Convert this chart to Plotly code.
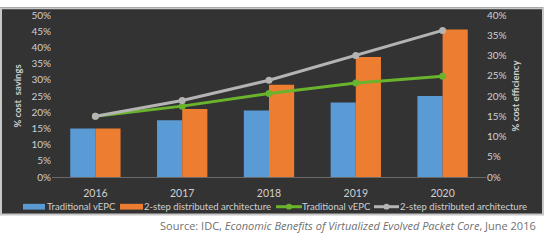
import base64
import plotly.graph_objects as go

years = ["2016", "2017", "2018", "2019", "2020"]
savings_trad = [0.15, 0.175, 0.205, 0.23, 0.25]
savings_2step = [0.15, 0.21, 0.285, 0.37, 0.455]
eff_trad = [0.15, 0.175, 0.206, 0.232, 0.249]
eff_2step = [0.15, 0.189, 0.239, 0.30, 0.362]
legend_labels = ["Traditional vEPC", "2-step distributed architecture",
                 "Traditional vEPC", "2-step distributed architecture"]

FONT = "Lato"
TXT = "#d0d0d0"
BLUE, ORANGE, GREEN, GRAY = "#5b9bd5", "#ed7d31", "#6ab42d", "#b4b4b4"

L, R, T, B = 52, 64, 8, 66
W, H = 550, 243
PW, PH = W - L - R, H - T - B


def px(x):
    return (x - L) / PW


def py(y):
    return (H - B - y) / PH


fig = go.Figure()
fig.add_trace(go.Bar(x=years, y=savings_trad, name=legend_labels[0],
                     marker=dict(color=BLUE, line=dict(width=0))))
fig.add_trace(go.Bar(x=years, y=savings_2step, name=legend_labels[1],
                     marker=dict(color=ORANGE, line=dict(width=0))))
fig.add_trace(go.Scatter(x=years, y=eff_trad, name=legend_labels[2], yaxis="y2",
                         mode="lines+markers", line=dict(color=GREEN, width=3),
                         marker=dict(size=7, color=GREEN)))
fig.add_trace(go.Scatter(x=years, y=eff_2step, name=legend_labels[3], yaxis="y2",
                         mode="lines+markers", line=dict(color=GRAY, width=3),
                         marker=dict(size=7, color=GRAY)))

bx0, bx1, by0, by1 = 0, 543, 0, 216
svg = (
    '<svg xmlns="http://www.w3.org/2000/svg" width="543" height="216">'
    '<defs><radialGradient id="g" cx="300" cy="230" r="330" gradientUnits="userSpaceOnUse">'
    '<stop offset="0" stop-color="#4a4a4a"/>'
    '<stop offset="0.45" stop-color="#3c3c3c"/>'
    '<stop offset="0.8" stop-color="#2a2a2a"/>'
    '<stop offset="1" stop-color="#1c1c1c"/>'
    '</radialGradient></defs>'
    '<rect width="543" height="216" fill="url(#g)"/></svg>'
)
src = "data:image/svg+xml;base64," + base64.b64encode(svg.encode()).decode()

shapes = [
    dict(type="rect", xref="paper", yref="paper", layer="below",
         x0=px(bx0), x1=px(bx1), y0=py(by1), y1=py(by0),
         fillcolor="#333333", line=dict(width=0)),
    dict(type="rect", xref="paper", yref="paper", layer="above",
         x0=px(bx0 + 1), x1=px(bx1), y0=py(by1), y1=py(bx0 + 1),
         fillcolor="rgba(0,0,0,0)", line=dict(color="#c8c8c8", width=2)),
]
annotations = []

ly = 208
items = [
    ("box", BLUE, 23, 45, 46, legend_labels[0]),
    ("box", ORANGE, 120, 143, 143, legend_labels[1]),
    ("line", GREEN, 276, 302, 301, legend_labels[2]),
    ("line", GRAY, 374, 399, 399, legend_labels[3]),
]
for kind, col, s0, s1, tx, label in items:
    if kind == "box":
        shapes.append(dict(type="rect", xref="paper", yref="paper", layer="above",
                           x0=px(s0), x1=px(s1), y0=py(ly + 3), y1=py(ly - 3),
                           fillcolor=col, line=dict(width=0)))
    else:
        shapes.append(dict(type="line", xref="paper", yref="paper", layer="above",
                           x0=px(s0), x1=px(s1), y0=py(ly), y1=py(ly),
                           line=dict(color=col, width=3)))
        m = (s0 + s1) / 2
        shapes.append(dict(type="circle", xref="paper", yref="paper", layer="above",
                           x0=px(m - 3), x1=px(m + 3), y0=py(ly + 3), y1=py(ly - 3),
                           fillcolor=col, line=dict(width=0)))
    annotations.append(dict(text=label, xref="paper", yref="paper", x=px(tx), xanchor="left",
                            y=py(ly), yanchor="middle", showarrow=False, borderpad=0,
                            font=dict(family=FONT, size=9.5, color=TXT)))

annotations.append(dict(
    text="Source: IDC, <i>Economic Benefits of Virtualized Evolved Packet Core</i>, June 2016",
    xref="paper", yref="paper", x=px(538), xanchor="right",
    y=py(228), yanchor="middle", showarrow=False,
    font=dict(family="Open Sans", size=11, color="#707070")))

fig.update_layout(
    width=W, height=H,
    margin=dict(l=L, r=R, t=T, b=B),
    paper_bgcolor="white",
    plot_bgcolor="rgba(0,0,0,0)",
    barmode="group", bargap=0.42, bargroupgap=0,
    font=dict(family=FONT, color=TXT, size=10),
    showlegend=False,
    xaxis=dict(showgrid=False, showline=True, linecolor="#6a6a6a", linewidth=1,
               ticks="", ticklabelstandoff=6, tickfont=dict(size=10.5, color=TXT)),
    yaxis=dict(range=[0, 0.5], dtick=0.05, tickformat=".0%", showgrid=False,
               zeroline=False, showline=False, tickfont=dict(size=10, color=TXT),
               title=dict(text="<b>% cost  savings</b>", font=dict(size=9.5, color=TXT), standoff=8)),
    yaxis2=dict(range=[0, 0.4], dtick=0.05, tickformat=".0%", overlaying="y", side="right",
                showgrid=False, zeroline=False, showline=False, tickfont=dict(size=10, color=TXT),
                title=dict(text="<b>% cost efficiency</b>", font=dict(size=9.5, color=TXT), standoff=6)),
    images=[dict(source=src, xref="paper", yref="paper", x=px(bx0), y=py(by0),
                 sizex=px(bx1) - px(bx0), sizey=py(by0) - py(by1),
                 xanchor="left", yanchor="top", sizing="stretch", layer="below")],
    shapes=shapes,
    annotations=annotations,
)

fig.write_html("out.html")
